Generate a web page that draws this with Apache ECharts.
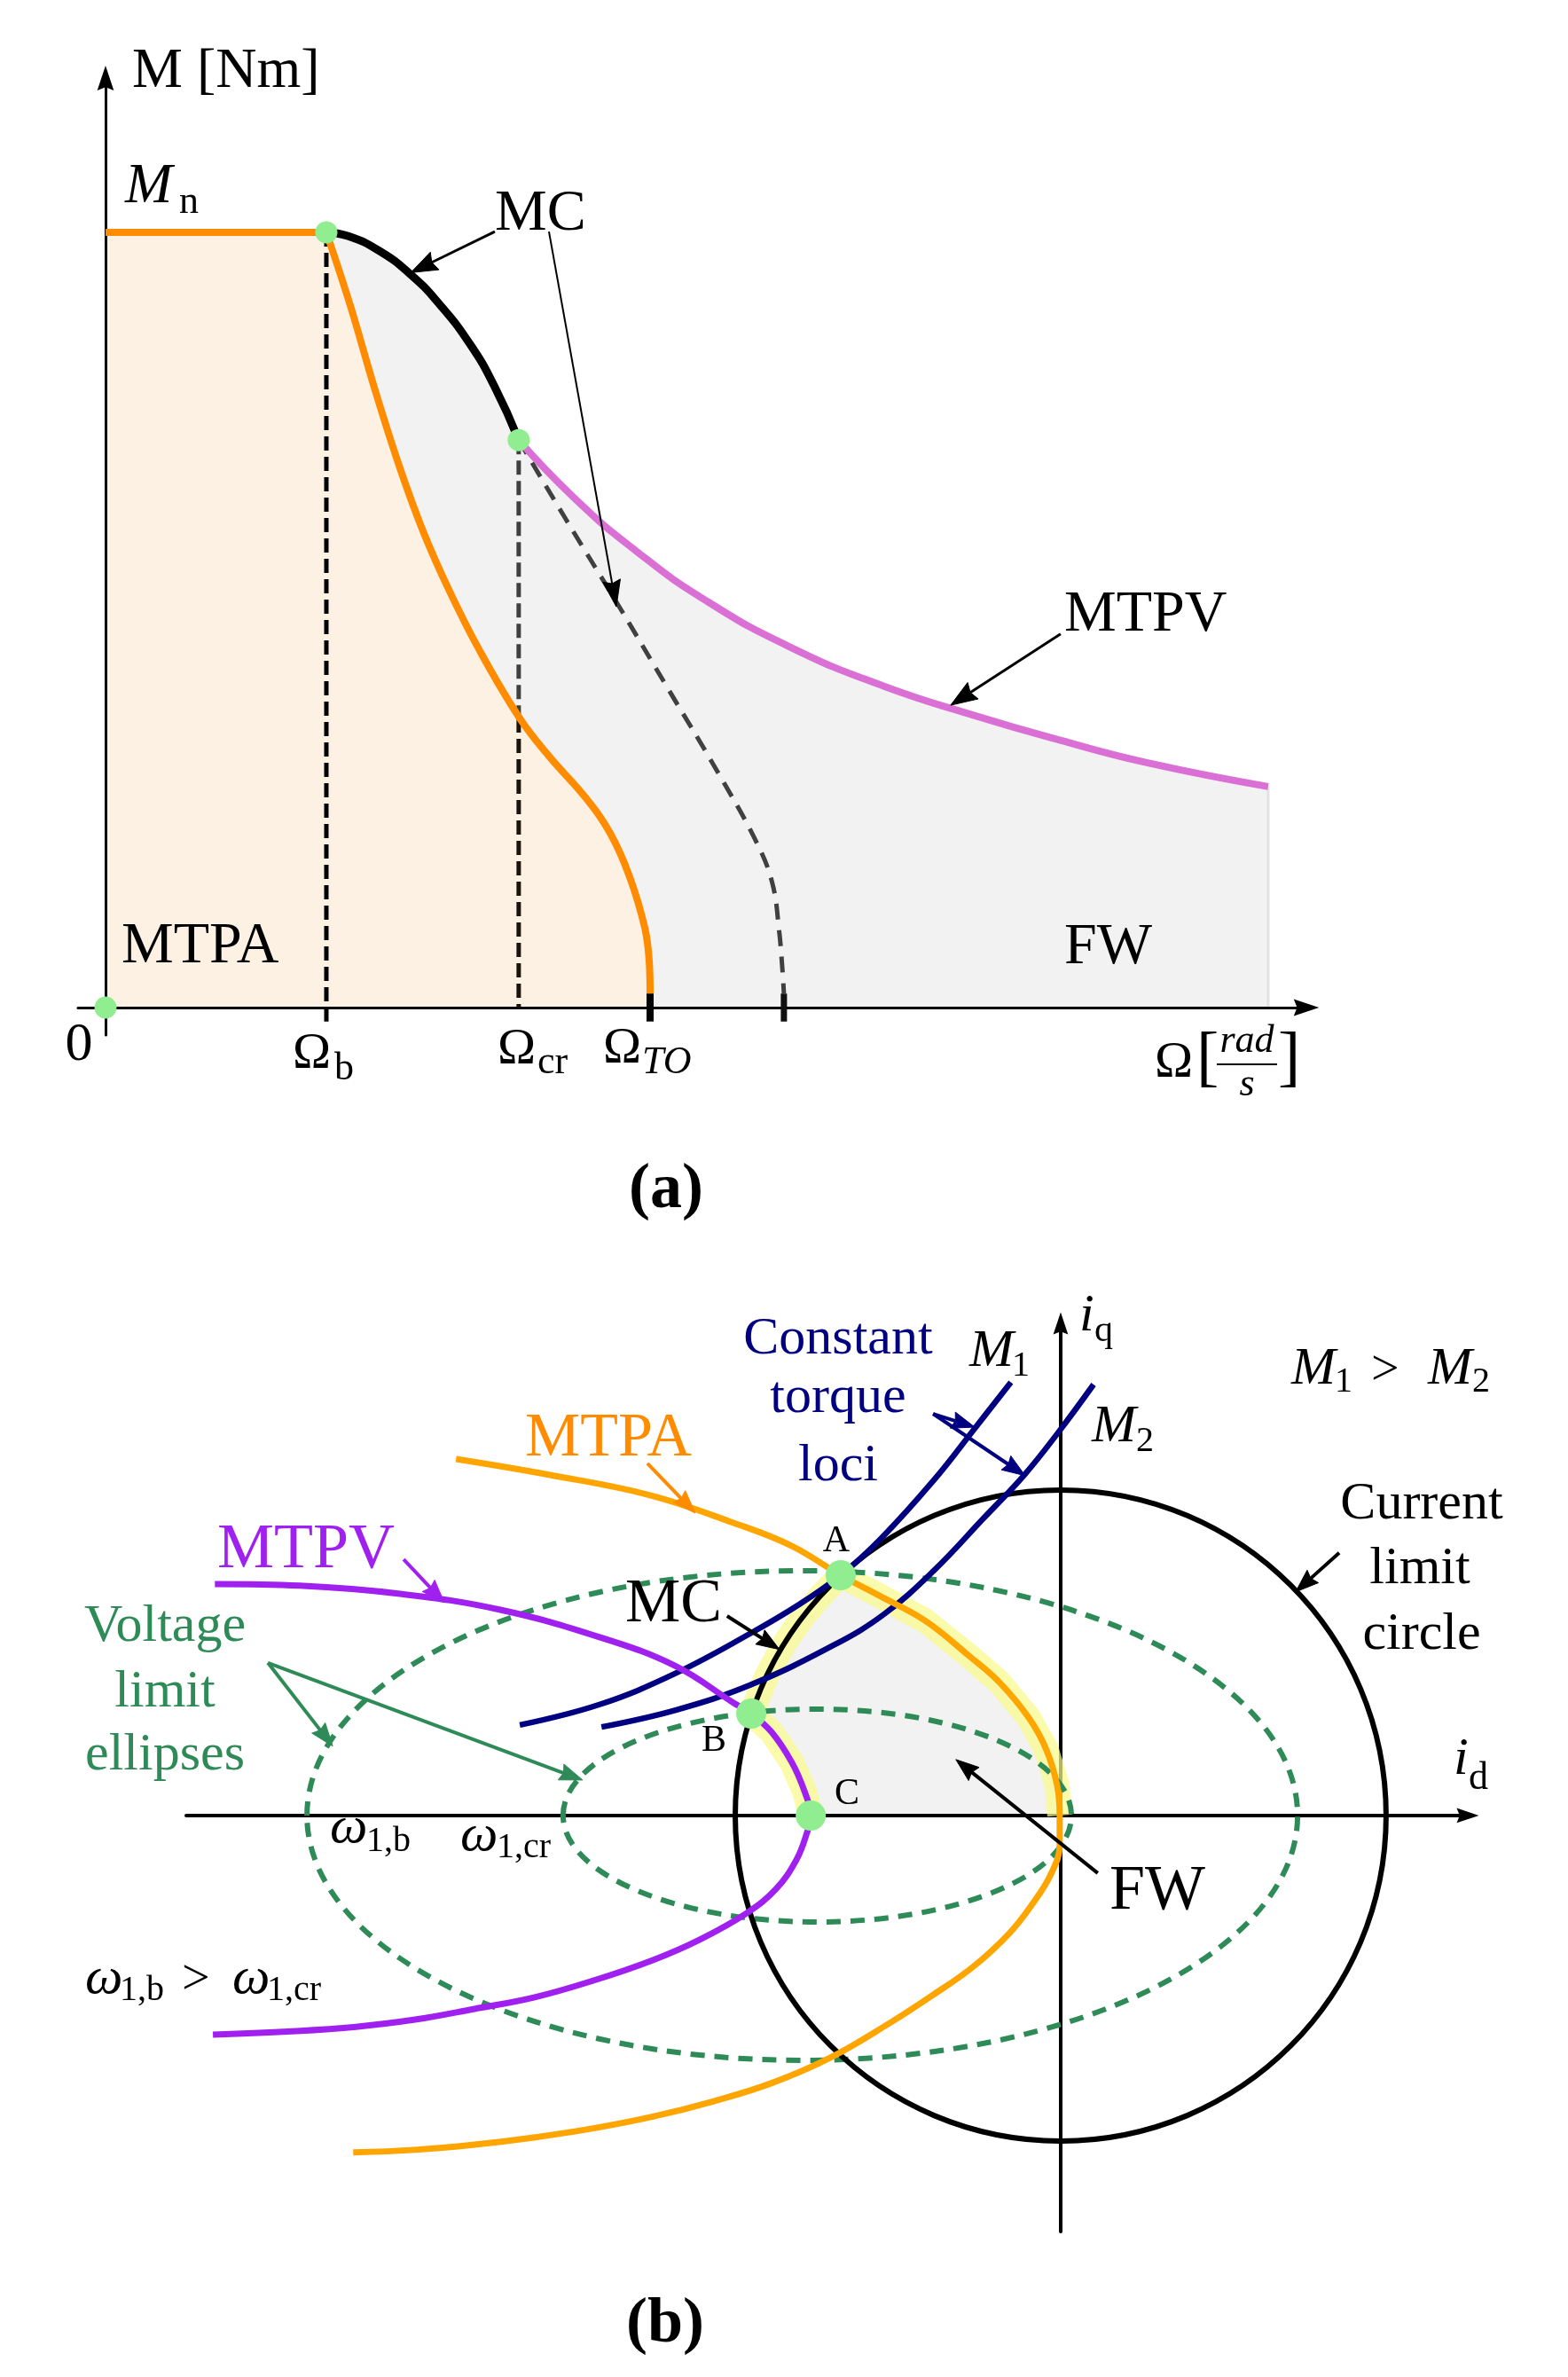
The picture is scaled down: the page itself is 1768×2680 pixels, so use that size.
<!DOCTYPE html>
<html>
<head>
<meta charset="utf-8">
<script src="https://cdn.jsdelivr.net/npm/echarts@6/dist/echarts.min.js"></script>
<style>
html,body{margin:0;padding:0;background:#ffffff;}
#c{width:1768px;height:2680px;}
</style>
</head>
<body>
<div id="c"></div>
<script>
// ================= DATA =================
// (a) Torque-speed plane. Ω in multiples of Ω_b, M in multiples of M_n
const omegaB = 1.0, omegaCr = 1.871, omegaTO = 2.466, omegaZero2 = 3.072, omegaEnd = 5.265;
const mtpaOmega  = [0, 1.0, 1.108, 1.221, 1.333, 1.44, 1.558, 1.695, 1.876, 2.012, 2.173, 2.285, 2.373, 2.442, 2.462, 2.466];
const mtpaTorque = [1, 1, 0.906, 0.796, 0.696, 0.613, 0.537, 0.46, 0.373, 0.323, 0.271, 0.225, 0.169, 0.103, 0.06, 0.018];
const mcOmega    = [1.0, 1.1, 1.24, 1.38, 1.51, 1.65, 1.76, 1.871];
const mcTorque   = [1.0, 0.995, 0.976, 0.946, 0.908, 0.856, 0.802, 0.732];
const mtpvOmega  = [1.871, 2.12, 2.398, 2.719, 3.1, 3.52, 3.92, 4.32, 4.72, 5.265];
const mtpvTorque = [0.732, 0.658, 0.590, 0.525, 0.465, 0.415, 0.378, 0.345, 0.3155, 0.285];
const limitOmega  = [1.871, 2.08, 2.32, 2.55, 2.78, 2.95, 3.02, 3.05, 3.065, 3.072];
const limitTorque = [0.732, 0.632, 0.52, 0.41, 0.30, 0.212, 0.16, 0.10, 0.05, 0.018];
const keyOmega  = [0, 1.0, 1.871];
const keyTorque = [0, 1.0, 0.732];
const mtpaCrossAtCr = 0.373;   // MTPA torque at Ω_cr

// (b) Current plane, currents in multiples of I_max (current-limit radius)
const currentLimitRadius = 1.0;
const ellipseCenterId = [-0.794, -0.748];   // ω1,b , ω1,cr
const ellipseHalfId   = [1.522, 0.781];
const ellipseHalfIq   = [0.752, 0.327];
const mtpaId = [-1.858, -1.569, -1.262, -1.005, -0.826, -0.676, -0.553, -0.417, -0.281, -0.188, -0.098, -0.044, -0.011, -0.003,
                -0.003, -0.030, -0.087, -0.158, -0.267, -0.395, -0.523, -0.706, -0.888, -1.071, -1.253, -1.436, -1.619, -1.801, -1.984, -2.174];
const mtpaIq = [1.095, 1.046, 0.984, 0.899, 0.828, 0.738, 0.673, 0.599, 0.490, 0.409, 0.300, 0.202, 0.093, 0,
                -0.090, -0.180, -0.272, -0.362, -0.463, -0.553, -0.636, -0.743, -0.822, -0.879, -0.925, -0.961, -0.989, -1.011, -1.027, -1.035];
const mtpvId = [-2.599, -2.338, -2.030, -1.722, -1.417, -1.185, -1.005, -0.951, -0.888, -0.826, -0.787, -0.768,
                -0.780, -0.812, -0.875, -0.965, -1.109, -1.253, -1.436, -1.619, -1.801, -1.984, -2.166, -2.349, -2.605];
const mtpvIq = [0.711, 0.706, 0.681, 0.632, 0.548, 0.460, 0.346, 0.313, 0.256, 0.163, 0.074, 0,
                -0.054, -0.136, -0.226, -0.300, -0.381, -0.444, -0.507, -0.559, -0.594, -0.627, -0.649, -0.662, -0.673];
const m1Id = [-1.662, -1.417, -1.185, -0.954, -0.807, -0.676, -0.553, -0.39, -0.265, -0.153];
const m1Iq = [0.278, 0.341, 0.436, 0.559, 0.646, 0.738, 0.850, 1.03, 1.188, 1.331];
const m2Id = [-1.411, -1.183, -0.954, -0.698, -0.542, -0.390, -0.237, -0.112, -0.005, 0.101];
const m2Iq = [0.272, 0.324, 0.401, 0.523, 0.619, 0.752, 0.913, 1.046, 1.180, 1.324];
const mcArcId = [-0.951, -0.905, -0.85, -0.79, -0.733, -0.676];   // B -> A on the current-limit circle
const mcArcIq = [0.313, 0.425, 0.527, 0.613, 0.680, 0.738];
const pointNames = ['A', 'B', 'C'];
const pointId = [-0.676, -0.951, -0.768];
const pointIq = [0.738, 0.313, 0];
const idxA_mtpa = 5, idxAxis_mtpa = 13, idxB_mtpv = 7, idxC_mtpv = 11;

// ================= STYLE / LAYOUT =================
const SERIF = "'Liberation Serif', 'Times New Roman', serif";
const C = {
  orangeA: '#ff8c00', orangeB: '#ffa500', pink: '#da70d6', purple: '#a020f0', navy: '#000080',
  green: '#2e8b57', dot: '#90ee90', grayFill: '#f2f2f2', orangeFill: '#fdf1e3', band: 'rgba(250,250,140,0.72)'
};
const AX_ARROW = 'path://M10,0 L20,30 L10,26 L0,30 Z';

// annotation arrows [fromX, fromY, toX, toY] in data units
const arrowsTop = [[1.763, 1.001, 1.382, 0.948], [4.325, 0.482, 3.827, 0.390]];
const arrowsTopThin = [[2.008, 1.001, 2.313, 0.517]];
const arrowsB = {
  orange: [[-1.270, 1.082, -1.123, 0.929]],
  purple: [[-2.019, 0.787, -1.894, 0.654]],
  black:  [[-1.025, 0.613, -0.864, 0.510], [0.856, 0.807, 0.722, 0.687], [0.114, -0.177, -0.322, 0.172]],
  green:  [[-2.436, 0.469, -2.237, 0.213], [-2.436, 0.469, -1.469, 0.109]],
  navy:   [[-0.392, 1.234, -0.264, 1.193], [-0.392, 1.234, -0.109, 1.044]]
};

function pairs(xs, ys) { return xs.map((x, i) => [x, ys[i]]); }

function axis(gridIndex, min, max, lw, arrowSize) {
  return {
    gridIndex: gridIndex, type: 'value', min: min, max: max, z: 2, silent: true,
    axisLine: { show: true, onZero: true, symbol: ['none', AX_ARROW], symbolSize: arrowSize,
      lineStyle: { color: '#000', width: lw } },
    axisTick: { show: false }, axisLabel: { show: false }, splitLine: { show: false }
  };
}

function line(gi, data, color, width, o) {
  o = o || {};
  const s = {
    type: 'line', xAxisIndex: gi, yAxisIndex: gi, data: data, symbol: 'none', showSymbol: false,
    smooth: o.smooth || false, z: o.z || 5, silent: true, clip: false,
    lineStyle: { color: color, width: width, type: o.dash || 'solid', cap: o.cap || 'butt', join: 'round', opacity: width > 0 ? 1 : 0 }
  };
  if (o.area) s.areaStyle = { color: o.area, opacity: 1 };
  return s;
}

function arrowSeries(gi, list, color, lw, headL, headW, z) {
  return {
    type: 'custom', xAxisIndex: gi, yAxisIndex: gi, z: z || 6, silent: true, data: list,
    renderItem: function (params, api) {
      const p0 = api.coord([api.value(0), api.value(1)]);
      const p1 = api.coord([api.value(2), api.value(3)]);
      const dx = p1[0] - p0[0], dy = p1[1] - p0[1];
      const len = Math.sqrt(dx * dx + dy * dy);
      const ux = dx / len, uy = dy / len, nx = -uy, ny = ux;
      const bx = p1[0] - ux * headL, by = p1[1] - uy * headL;
      return {
        type: 'group', children: [
          { type: 'line', shape: { x1: p0[0], y1: p0[1], x2: bx + ux * 4, y2: by + uy * 4 },
            style: { stroke: color, lineWidth: lw } },
          { type: 'polygon', shape: { points: [
              [p1[0], p1[1]],
              [bx + nx * headW / 2, by + ny * headW / 2],
              [bx + ux * headL * 0.12, by + uy * headL * 0.12],
              [bx - nx * headW / 2, by - ny * headW / 2]] },
            style: { fill: color, stroke: color, lineWidth: 1 } }
        ]
      };
    }
  };
}

function ellipseSeries(gi, list, stroke, lw, dash, z) {
  return {
    type: 'custom', xAxisIndex: gi, yAxisIndex: gi, z: z, silent: true, data: list,
    renderItem: function (params, api) {
      const c = api.coord([api.value(0), api.value(1)]);
      const s = api.size([api.value(2), api.value(3)]);
      return { type: 'ellipse', shape: { cx: c[0], cy: c[1], rx: s[0], ry: s[1] },
        style: { fill: null, stroke: stroke, lineWidth: lw, lineDash: dash || null } };
    }
  };
}

function shapeSeries(gi, type, pts, style, z) {
  return {
    type: 'custom', xAxisIndex: gi, yAxisIndex: gi, z: z, silent: true, data: [[0, 0]],
    renderItem: function (params, api) {
      return { type: type, shape: { points: pts.map(p => api.coord(p)) }, style: style };
    }
  };
}

function T(x, baseline, text, size, o) {
  o = o || {};
  return {
    type: 'text', z: 100, x: x, y: baseline - 0.34 * size, silent: true,
    style: {
      text: text,
      font: (o.italic ? 'italic ' : '') + (o.bold ? 'bold ' : '') + size + 'px ' + SERIF,
      fill: o.color || '#000',
      align: o.align || 'left', textAlign: o.align || 'left',
      verticalAlign: 'middle', textVerticalAlign: 'middle'
    }
  };
}

// ---------- derived geometry for (b) FW region ----------
const fwRegion = []
  .concat(pairs(mtpaId, mtpaIq).slice(idxA_mtpa, idxAxis_mtpa + 1))
  .concat(pairs(mtpvId, mtpvIq).slice(idxB_mtpv, idxC_mtpv + 1).reverse())
  .concat(pairs(mcArcId, mcArcIq).slice(1));
const fwBand = []
  .concat(pairs(mtpaId, mtpaIq).slice(idxA_mtpa, idxAxis_mtpa + 1).reverse())
  .concat(pairs(mcArcId, mcArcIq).reverse().slice(1))
  .concat(pairs(mtpvId, mtpvIq).slice(idxB_mtpv + 1, idxC_mtpv + 1));

const mtpaAll = pairs(mtpaOmega, mtpaTorque);
const envelope = [[0, 1]].concat(pairs(mcOmega, mcTorque)).concat(pairs(mtpvOmega, mtpvTorque).slice(1));

const series = [
  // ---------- (a) ----------
  line(0, envelope, '#f2f2f2', 0, { area: C.grayFill, smooth: 0.5, z: 1 }),
  line(0, mtpaAll.slice(0, 2), C.orangeA, 0, { area: C.orangeFill, z: 1 }),
  line(0, mtpaAll.slice(1), C.orangeA, 0, { area: C.orangeFill, smooth: 0.4, z: 1 }),
  line(0, [[omegaEnd, 0], [omegaEnd, mtpvTorque[mtpvTorque.length - 1]]], '#e2e2e2', 3, { z: 1 }),
  line(0, [[omegaB, 1], [omegaB, -0.018]], '#000', 5, { dash: [16, 7], z: 3 }),
  line(0, [[omegaCr, keyTorque[2]], [omegaCr, mtpaCrossAtCr]], '#404040', 5, { dash: [16, 7], z: 3 }),
  line(0, [[omegaCr, mtpaCrossAtCr], [omegaCr, 0]], '#1c140a', 5, { dash: [16, 7], z: 3 }),
  line(0, pairs(limitOmega, limitTorque), '#404040', 5, { dash: [18, 12], smooth: 0.4, z: 3 }),
  line(0, mtpaAll.slice(0, 2), C.orangeA, 8, { z: 4 }),
  line(0, mtpaAll.slice(1), C.orangeA, 8, { smooth: 0.4, z: 4 }),
  line(0, pairs(mcOmega, mcTorque), '#000', 9, { smooth: 0.5, z: 4, cap: 'round' }),
  line(0, pairs(mtpvOmega, mtpvTorque), C.pink, 8, { smooth: 0.5, z: 4 }),
  line(0, [[omegaTO, 0.018], [omegaTO, -0.018]], '#000', 8, { z: 4 }),
  line(0, [[omegaZero2, 0.018], [omegaZero2, -0.018]], '#111', 7, { z: 4 }),
  arrowSeries(0, arrowsTop, '#000', 3, 30, 22, 6),
  arrowSeries(0, arrowsTopThin, '#000', 2, 30, 20, 6),
  { type: 'scatter', xAxisIndex: 0, yAxisIndex: 0, data: pairs(keyOmega, keyTorque), symbol: 'circle',
    symbolSize: 25, itemStyle: { color: C.dot, opacity: 1 }, z: 8, silent: true },

  // ---------- (b) ----------
  shapeSeries(1, 'polygon', fwRegion, { fill: C.grayFill }, 1),
  shapeSeries(1, 'polyline', fwBand, { fill: null, stroke: C.band, lineWidth: 28, lineJoin: 'round', lineCap: 'butt' }, 3),
  ellipseSeries(1, ellipseCenterId.map((c, i) => [c, 0, ellipseHalfId[i], ellipseHalfIq[i]]), C.green, 6, [16, 11], 4),
  ellipseSeries(1, [[0, 0, currentLimitRadius, currentLimitRadius]], '#000', 6, null, 4),
  line(1, pairs(m1Id, m1Iq), C.navy, 6.5, { smooth: 0.4, z: 5 }),
  line(1, pairs(m2Id, m2Iq), C.navy, 6.5, { smooth: 0.4, z: 5 }),
  line(1, pairs(mtpvId, mtpvIq), C.purple, 7, { smooth: 0.4, z: 5 }),
  line(1, pairs(mtpaId, mtpaIq), C.orangeB, 7, { smooth: 0.4, z: 5 }),
  arrowSeries(1, arrowsB.orange, C.orangeA, 4, 26, 19, 6),
  arrowSeries(1, arrowsB.purple, C.purple, 4, 26, 19, 6),
  arrowSeries(1, arrowsB.black, '#000', 4, 26, 19, 6),
  arrowSeries(1, arrowsB.green, C.green, 4, 26, 19, 6),
  arrowSeries(1, arrowsB.navy, C.navy, 4, 26, 19, 6),
  { type: 'scatter', xAxisIndex: 1, yAxisIndex: 1, data: pairs(pointId, pointIq).map((p, i) => ({ name: pointNames[i], value: p })),
    symbol: 'circle', symbolSize: 34, itemStyle: { color: C.dot, opacity: 1 }, z: 8, silent: true }
];

const texts = [
  // (a)
  T(149, 103, 'M [Nm]', 64),
  T(141, 233, 'M', 64, { italic: true }), T(202, 243, 'n', 44),
  T(558, 264, 'MC', 66),
  T(1200, 716, 'MTPV', 66),
  T(137, 1090, 'MTPA', 66),
  T(1200, 1091, 'FW', 66),
  T(89, 1200, '0', 62, { align: 'center' }),
  T(330, 1208, 'Ω', 58), T(377, 1220, 'b', 44),
  T(561, 1203, 'Ω', 58), T(606, 1213, 'cr', 44),
  T(680, 1202, 'Ω', 58), T(724, 1213, 'TO', 44, { italic: true }),
  T(1302, 1218, 'Ω', 58), T(1349, 1222, '[', 76),
  T(1406, 1189, 'rad', 44, { italic: true, align: 'center' }),
  T(1406, 1238, 's', 44, { italic: true, align: 'center' }),
  T(1441, 1222, ']', 76),
  { type: 'line', z: 100, silent: true, shape: { x1: 1372, y1: 1200, x2: 1440, y2: 1200 }, style: { stroke: '#000', lineWidth: 2 } },
  T(751, 1367, '(a)', 72, { bold: true, align: 'center' }),
  // (b)
  T(945, 1531, 'Constant', 60, { color: C.navy, align: 'center' }),
  T(945, 1597, 'torque', 60, { color: C.navy, align: 'center' }),
  T(945, 1674, 'loci', 60, { color: C.navy, align: 'center' }),
  T(1093, 1545, 'M', 60, { italic: true }), T(1141, 1554, '1', 40),
  T(1231, 1630, 'M', 60, { italic: true }), T(1281, 1639, '2', 40),
  T(1217, 1505, 'i', 60, { italic: true }), T(1234, 1515, 'q', 42),
  T(1456, 1565, 'M', 60, { italic: true }), T(1505, 1572, '1', 40), T(1546, 1565, '>', 56),
  T(1610, 1565, 'M', 60, { italic: true }), T(1660, 1572, '2', 40),
  T(1603, 1717, 'Current', 60, { align: 'center' }),
  T(1601, 1790, 'limit', 60, { align: 'center' }),
  T(1603, 1864, 'circle', 60, { align: 'center' }),
  T(1639, 2005, 'i', 60, { italic: true }), T(1656, 2020, 'd', 44),
  T(1251, 2158, 'FW', 72),
  T(705, 1833, 'MC', 70),
  T(943, 1752, 'A', 42, { align: 'center' }),
  T(805, 1977, 'B', 42, { align: 'center' }),
  T(955, 2037, 'C', 42, { align: 'center' }),
  T(592, 1646, 'MTPA', 70, { color: C.orangeA }),
  T(245, 1773, 'MTPV', 72, { color: C.purple }),
  T(186, 1855, 'Voltage', 60, { color: C.green, align: 'center' }),
  T(186, 1929, 'limit', 60, { color: C.green, align: 'center' }),
  T(186, 2000, 'ellipses', 60, { color: C.green, align: 'center' }),
  T(372, 2082, 'ω', 60, { italic: true }), T(413, 2090, '1,b', 40),
  T(519, 2091, 'ω', 60, { italic: true }), T(560, 2097, '1,cr', 40),
  T(96, 2252, 'ω', 60, { italic: true }), T(135, 2258, '1,b', 40), T(205, 2252, '>', 56),
  T(262, 2252, 'ω', 60, { italic: true }), T(301, 2258, '1,cr', 40),
  T(750, 2646, '(b)', 72, { bold: true, align: 'center' })
];

const option = {
  backgroundColor: '#ffffff',
  animation: false,
  grid: [
    { left: 88, top: 88, width: 1385, height: 1079, show: false, containLabel: false },
    { left: 210, top: 1492, width: 1445, height: 1024, show: false, containLabel: false }
  ],
  xAxis: [axis(0, -0.1245, 5.438, 3, [19, 30]), axis(1, -2.687, 1.251, 4, [17, 25])],
  yAxis: [axis(0, -0.0355, 1.199, 3, [20, 28]), axis(1, -1.278, 1.512, 4, [17, 25])],
  series: series,
  graphic: { elements: texts }
};

const chart = echarts.init(document.getElementById('c'), null, { renderer: 'canvas', width: 1768, height: 2680 });
chart.setOption(option);
</script>
</body>
</html>
